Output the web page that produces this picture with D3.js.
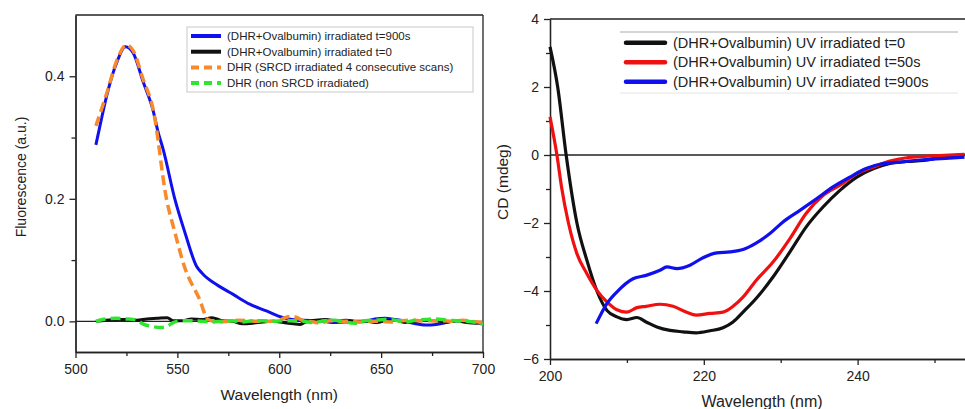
<!DOCTYPE html>
<html>
<head>
<meta charset="utf-8">
<script src="https://cdnjs.cloudflare.com/ajax/libs/d3/7.8.5/d3.min.js"></script>
<style>
  body { margin: 0; background: #fff; }
  svg { display: block; font-family: "Liberation Sans", Arial, sans-serif; }
  .ax path, .ax line { stroke: #222; stroke-width: 1.3; }
  .ax text { font-size: 14px; fill: #222; font-family: "Liberation Sans", Arial, sans-serif; }
</style>
</head>
<body>
<svg id="chart" width="965" height="409"></svg>
<script>
// ---- left panel: fluorescence ----
const fluoBlue = [[510,0.288],[512,0.319],[515.3,0.368],[520.2,0.422],[524.5,0.448],[528.3,0.438],[533.2,0.391],
  [538.1,0.344],[540.6,0.308],[543,0.281],[548.8,0.199],[553.7,0.145],[559.4,0.090],[562.6,0.077],[569.2,0.060],
  [577.4,0.044],[585.5,0.028],[593.7,0.017],[601.9,0.006],[610,0.002],[612,0.002],[617,0.001],[622,0.000],
  [627,-0.002],[632,-0.001],[637,-0.001],[642,0.000],[647,0.004],[652,0.005],[657,0.003],[662,0.000],[667,-0.004],
  [672,-0.006],[677,-0.005],[682,-0.002],[687,0.001],[692,0.000],[697,-0.002],[700,-0.003]];
const fluoBlack = [[510,0.000],[515,0.002],[520,0.003],[525,0.003],[530,0.002],[535,0.004],[540,0.005],[545,0.006],
  [548,0.001],[552,0.001],[557,0.004],[562,0.003],[567,0.006],[572,0.001],[577,0.000],[582,-0.004],[587,-0.003],
  [592,-0.001],[597,0.000],[602,-0.002],[607,-0.004],[610,-0.005],[613,-0.001],[618,0.002],[623,0.003],[628,0.001],
  [633,0.002],[638,0.000],[643,0.000],[648,-0.002],[652,0.001],[657,0.002],[662,-0.002],[667,0.000],[672,0.002],
  [677,0.001],[682,-0.001],[687,0.001],[692,-0.002],[697,-0.003],[700,-0.002]];
const fluoOrange = [[510,0.319],[515.3,0.372],[520.2,0.425],[525,0.451],[528.3,0.442],[533.2,0.395],[538.1,0.346],
  [544.7,0.199],[548.8,0.145],[553.4,0.090],[561,0.035],[565,0.003],[570,-0.001],[575,0.000],[580,0.002],[585,0.001],
  [590,0.000],[595,0.000],[600,0.002],[605,0.008],[608,0.007],[612,0.001],[617,-0.001],[620,-0.003],[625,0.001],
  [630,0.000],[635,0.000],[640,-0.001],[645,0.000],[650,0.000],[655,-0.001],[660,0.001],[665,0.002],[670,0.001],
  [675,0.001],[680,0.001],[685,0.000],[690,0.002],[695,0.000],[700,-0.002]];
const fluoGreen = [[510,0.000],[515,0.004],[520,0.005],[525,0.004],[530,0.002],[533,-0.004],[537,-0.008],[542,-0.010],
  [545,-0.008],[548,-0.002],[552,0.001],[557,0.001],[562,0.000],[567,-0.001],[572,0.000],[577,0.001],[582,-0.001],
  [587,0.001],[592,0.001],[597,0.000],[602,0.001],[607,0.001],[612,0.000],[617,-0.002],[622,0.001],[627,0.002],
  [632,-0.001],[637,-0.003],[642,0.001],[647,0.002],[652,0.003],[657,0.002],[662,-0.001],[667,0.002],[672,0.003],
  [677,0.004],[682,0.002],[687,0.001],[692,0.000],[697,-0.002],[700,-0.005]];
const fluoLabels = ["(DHR+Ovalbumin) irradiated t=900s", "(DHR+Ovalbumin) irradiated t=0",
  "DHR (SRCD irradiated 4 consecutive scans)", "DHR (non SRCD irradiated)"];
const fluoXTicks = [500, 550, 600, 650, 700];
const fluoYTicks = [0, 0.2, 0.4];

// ---- right panel: CD ----
const cdBlack = [[200,3.18],[201,2.0],[202.1,0.0],[203.5,-2.0],[204.8,-3.1],[206.1,-4.0],[207.4,-4.57],[208.7,-4.76],
  [210,-4.84],[211.3,-4.78],[212.5,-4.91],[213.9,-5.06],[215.6,-5.16],[217.3,-5.2],[219,-5.23],[220.8,-5.17],
  [222.5,-5.08],[223.8,-4.91],[225.1,-4.62],[226.8,-4.22],[229,-3.59],[231.2,-2.85],[233.3,-2.12],[235.5,-1.53],
  [237.7,-1.04],[239.9,-0.65],[242.1,-0.40],[244.2,-0.25],[246.4,-0.19],[248.6,-0.16],[250.6,-0.08],[253.9,0.01]];
const cdRed = [[200,1.12],[200.9,0.0],[201.5,-0.94],[202.4,-2.0],[203.5,-2.9],[204.8,-3.49],[206.1,-3.98],[207.4,-4.32],
  [208.7,-4.55],[210,-4.62],[211.3,-4.49],[212.5,-4.45],[214.3,-4.39],[216,-4.45],[217.7,-4.62],[219,-4.71],
  [220.8,-4.66],[222.5,-4.62],[223.8,-4.45],[225.1,-4.18],[226.8,-3.69],[229,-3.15],[231.2,-2.46],[233.3,-1.72],
  [235.5,-1.19],[237.7,-0.89],[239.9,-0.55],[242.1,-0.35],[244.2,-0.18],[246.4,-0.08],[248.6,-0.04],[250.6,-0.02],[253.9,0.02]];
const cdBlue = [[206,-4.96],[207.4,-4.37],[208.9,-3.98],[210.8,-3.64],[212.5,-3.54],[214.3,-3.39],[215.2,-3.29],
  [216.5,-3.34],[218.2,-3.24],[219.9,-3.02],[221.7,-2.88],[223.4,-2.85],[225.1,-2.78],[226.8,-2.59],[228.6,-2.31],
  [230.3,-1.97],[232.5,-1.63],[234.7,-1.28],[236.8,-0.94],[239,-0.65],[241.1,-0.40],[243.3,-0.25],[245.5,-0.21],
  [248.6,-0.14],[251.9,-0.09],[253.9,-0.06]];
const cdLabels = ["(DHR+Ovalbumin) UV irradiated t=0", "(DHR+Ovalbumin) UV irradiated t=50s",
  "(DHR+Ovalbumin) UV irradiated t=900s"];
const cdXTicks = [200, 220, 240];
const cdYTicks = [-6, -4, -2, 0, 2, 4];

const svg = d3.select("#chart");

function drawAxes(g, x, y, xTicks, xMinor, yTicks, yMinor, yFmt, left, right, top, bottom) {
  g.append("g").attr("class", "ax").attr("transform", "translate(0," + bottom + ")")
    .call(d3.axisBottom(x).tickValues(xTicks).tickSize(6).tickSizeOuter(0).tickPadding(6).tickFormat(d3.format("d")));
  g.append("g").attr("class", "ax").attr("transform", "translate(0," + bottom + ")")
    .call(d3.axisBottom(x).tickValues(xMinor).tickSize(4).tickSizeOuter(0).tickFormat(""));
  g.append("g").attr("class", "ax").attr("transform", "translate(" + left + ",0)")
    .call(d3.axisLeft(y).tickValues(yTicks).tickSize(6).tickSizeOuter(0).tickPadding(5).tickFormat(yFmt));
  g.append("g").attr("class", "ax").attr("transform", "translate(" + left + ",0)")
    .call(d3.axisLeft(y).tickValues(yMinor).tickSize(4).tickSizeOuter(0).tickFormat(""));
  // frame top / right
  g.append("line").attr("x1", left).attr("x2", right).attr("y1", top).attr("y2", top)
    .attr("stroke", "#222").attr("stroke-width", 1.3);
  if (right < 965) {
    g.append("line").attr("x1", right).attr("x2", right).attr("y1", top).attr("y2", bottom)
      .attr("stroke", "#222").attr("stroke-width", 1.3);
  }
}

// ================= left panel =================
(function() {
  const L = 75.5, R = 483, T = 15, B = 352;
  const x = d3.scaleLinear().domain([500, 700]).range([L, R]);
  const y = d3.scaleLinear().domain([-0.05, 0.5]).range([B, T]);
  const g = svg.append("g");

  // zero line
  g.append("line").attr("x1", L).attr("x2", R).attr("y1", y(0)).attr("y2", y(0))
    .attr("stroke", "#222").attr("stroke-width", 1.2);

  drawAxes(g, x, y, fluoXTicks, [525, 575, 625, 675], fluoYTicks, [0.1, 0.3], d3.format(".1f"), L, R, T, B);

  const line = d3.line().x(d => x(d[0])).y(d => y(d[1])).curve(d3.curveMonotoneX);
  const series = [
    { data: fluoBlue, color: "#1010ee", dash: null, w: 3 },
    { data: fluoBlack, color: "#111", dash: null, w: 3 },
    { data: fluoOrange, color: "#f98a2c", dash: "10,5", w: 3.5 },
    { data: fluoGreen, color: "#2ee62e", dash: "10,5", w: 3.5 }
  ];
  series.forEach(s => {
    g.append("path").attr("d", line(s.data)).attr("fill", "none")
      .attr("stroke", s.color).attr("stroke-width", s.w)
      .attr("stroke-dasharray", s.dash).attr("stroke-linejoin", "round");
  });

  // legend
  g.append("rect").attr("x", 187).attr("y", 27).attr("width", 286).attr("height", 65)
    .attr("fill", "#fff").attr("stroke", "#c8c8c8").attr("stroke-width", 1);
  series.forEach((s, i) => {
    const ly = 36 + i * 15.7;
    g.append("line").attr("x1", 191).attr("x2", 221).attr("y1", ly).attr("y2", ly)
      .attr("stroke", s.color).attr("stroke-width", 4).attr("stroke-dasharray", s.dash ? "8,5" : null);
    g.append("text").attr("x", 227).attr("y", ly + 4).attr("font-size", 11.5).attr("fill", "#222")
      .text(fluoLabels[i]);
  });

  g.append("text").attr("x", (L + R) / 2).attr("y", 400).attr("text-anchor", "middle")
    .attr("font-size", 15.5).attr("fill", "#222").text("Wavelength (nm)");
  g.append("text").attr("transform", "translate(26,177) rotate(-90)").attr("text-anchor", "middle")
    .attr("font-size", 14).attr("fill", "#222").text("Fluorescence (a.u.)");
})();

// ================= right panel =================
(function() {
  const L = 550, R = 965, T = 19, B = 359;
  const x = d3.scaleLinear().domain([200, 260]).range([L, L + 60 * 7.69]);
  const y = d3.scaleLinear().domain([-6, 4]).range([B, T]);
  const g = svg.append("g");

  g.append("line").attr("x1", L).attr("x2", R).attr("y1", y(0)).attr("y2", y(0))
    .attr("stroke", "#222").attr("stroke-width", 1.3);

  drawAxes(g, x, y, cdXTicks, [210, 230, 250], cdYTicks, [-5, -3, -1, 1, 3], d3.format("d"), L, R + 10, T, B);

  const line = d3.line().x(d => x(d[0])).y(d => y(d[1])).curve(d3.curveMonotoneX);
  const series = [
    { data: cdBlack, color: "#111" },
    { data: cdRed, color: "#f01010" },
    { data: cdBlue, color: "#1010ee" }
  ];
  series.forEach(s => {
    g.append("path").attr("d", line(s.data)).attr("fill", "none")
      .attr("stroke", s.color).attr("stroke-width", 3.2).attr("stroke-linejoin", "round");
  });

  // legend
  g.append("line").attr("x1", 620).attr("x2", 958).attr("y1", 32).attr("y2", 32)
    .attr("stroke", "#aaa").attr("stroke-width", 1);
  g.append("line").attr("x1", 620).attr("x2", 958).attr("y1", 93).attr("y2", 93)
    .attr("stroke", "#e4e4e4").attr("stroke-width", 1);
  series.forEach((s, i) => {
    const ly = 42.7 + i * 19.5;
    g.append("line").attr("x1", 626).attr("x2", 665).attr("y1", ly).attr("y2", ly)
      .attr("stroke", s.color).attr("stroke-width", 4.5).attr("stroke-linecap", "round");
    g.append("text").attr("x", 673).attr("y", ly + 5).attr("font-size", 14.5).attr("fill", "#222")
      .text(cdLabels[i]);
  });

  g.append("text").attr("x", 762).attr("y", 407).attr("text-anchor", "middle")
    .attr("font-size", 16).attr("fill", "#222").text("Wavelength (nm)");
  g.append("text").attr("transform", "translate(508,182) rotate(-90)").attr("text-anchor", "middle")
    .attr("font-size", 15.5).attr("fill", "#222").text("CD (mdeg)");
})();
</script>
</body>
</html>
